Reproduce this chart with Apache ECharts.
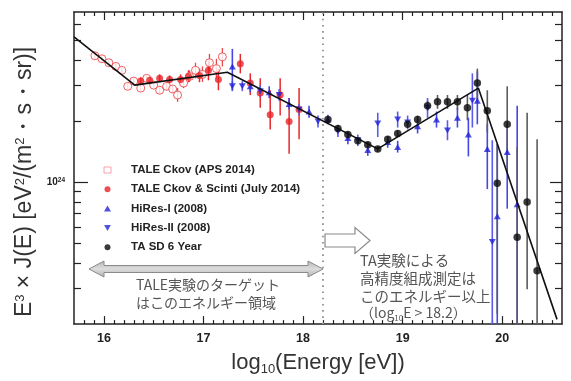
<!DOCTYPE html>
<html><head><meta charset="utf-8">
<script src="https://cdn.jsdelivr.net/npm/echarts@6/dist/echarts.min.js"></script>
<style>html,body{margin:0;padding:0;background:#fff}#c{width:571px;height:381px}</style>
</head><body><div id="c"></div>
<script>
// ---- data (E = log10 energy [eV], J = E^3 J(E) in units of 10^24) ----
const xTickLabels = [16, 17, 18, 19, 20];
const xMinorTicks = [15.8,15.9,16.1,16.2,16.3,16.4,16.5,16.6,16.7,16.8,16.9,17.1,17.2,17.3,17.4,17.5,17.6,17.7,17.8,17.9,18.1,18.2,18.3,18.4,18.5,18.6,18.7,18.8,18.9,19.1,19.2,19.3,19.4,19.5,19.6,19.7,19.8,19.9,20.1,20.2,20.3,20.4,20.5];
const yMajorTicks = [1];
const yMinorTicks = [0.3,0.4,0.5,0.6,0.7,0.8,0.9,2,3,4,5,6];

const taleCkovE  = [15.91,15.98,16.05,16.12,16.18,16.24,16.30,16.37,16.43,16.50,16.56,16.63,16.69,16.74,16.80,16.86,16.92,16.99,17.06,17.13,17.19];
const taleCkovJ  = [4.20,4.06,3.88,3.72,3.56,2.97,3.15,2.91,3.25,3.01,2.84,2.97,2.88,2.69,3.08,3.32,3.56,3.40,3.88,3.63,4.15];
const taleCkovLo = [4.06,3.93,3.76,3.60,3.44,2.88,3.04,2.81,3.15,2.91,2.72,2.84,2.75,2.49,2.91,3.12,3.25,3.12,3.52,3.25,3.72];
const taleCkovHi = [4.34,4.20,4.01,3.84,3.68,3.08,3.25,3.01,3.36,3.12,2.97,3.12,3.01,2.91,3.25,3.56,3.88,3.72,4.29,4.06,4.59];

const taleScE  = [16.37,16.46,16.56,16.66,16.77,16.85,16.96,17.05,17.15,17.37,17.47,17.57,17.67,17.77,17.86,17.96];
const taleScJ  = [3.15,3.18,3.25,3.21,3.21,3.32,3.36,3.56,3.21,3.84,3.08,2.75,2.15,2.69,1.99,2.28];
const taleScLo = [3.01,3.04,3.11,3.08,3.04,3.11,3.11,3.18,2.84,3.44,2.69,2.33,1.82,2.13,1.38,1.63];
const taleScHi = [3.29,3.32,3.40,3.36,3.40,3.56,3.63,3.97,3.63,4.29,3.44,3.25,2.84,3.25,2.60,2.91];

const hires1E  = [17.29,17.47,17.66,17.86,18.06,18.25,18.45,18.65,18.85,18.95,19.15,19.34,19.55,19.66,19.75,19.85,19.95,20.05,20.15];
const hires1J  = [3.72,2.97,2.78,2.43,2.23,2.04,1.65,1.44,1.58,1.49,1.89,2.04,2.08,1.72,2.52,1.46,0.68,1.41,0.78];
const hires1Lo = [2.84,2.78,2.60,2.28,2.08,1.93,1.54,1.35,1.48,1.40,1.74,1.86,1.86,1.34,1.93,0.925,0.19,0.741,0.19];
const hires1Hi = [4.54,3.18,2.97,2.60,2.38,2.15,1.76,1.54,1.69,1.60,2.04,2.23,2.33,2.08,3.52,1.93,1.54,1.93,2.38];

const hires2E  = [17.29,17.39,17.57,17.76,17.96,18.15,18.35,18.55,18.75,18.95,19.05,19.25,19.45,19.70,19.90];
const hires2J  = [2.97,2.97,2.81,2.69,2.28,1.99,1.78,1.61,1.95,2.04,1.97,2.33,1.80,2.52,0.507];
const hires2Lo = [2.81,2.81,2.63,2.52,2.13,1.86,1.67,1.51,1.67,1.86,1.82,2.08,1.61,1.86,0.19];
const hires2Hi = [3.15,3.15,3.01,2.88,2.43,2.13,1.91,1.72,2.20,2.23,2.13,2.60,2.02,3.44,1.61];

const taSdE  = [18.25,18.35,18.45,18.55,18.65,18.75,18.85,18.95,19.05,19.15,19.25,19.35,19.45,19.55,19.65,19.75,19.85,19.95,20.05,20.15,20.25,20.35];
const taSdJ  = [2.04,1.84,1.72,1.60,1.53,1.46,1.63,1.74,1.93,2.04,2.38,2.49,2.49,2.49,2.33,3.08,2.25,0.99,1.93,0.536,0.80,0.366];
const taSdLo = [1.97,1.78,1.67,1.54,1.48,1.41,1.58,1.69,1.86,1.95,2.25,2.30,2.30,2.28,2.02,2.52,1.76,0.225,1.19,0.19,0.297,0.19];
const taSdHi = [2.11,1.91,1.78,1.65,1.58,1.51,1.69,1.80,1.99,2.13,2.52,2.69,2.69,2.69,2.69,3.63,2.84,1.54,2.97,1.49,2.20,1.63];

const fitE = [15.70,16.31,17.24,18.75,19.76,20.55];
const fitJ = [5.21,3.01,3.48,1.46,2.91,0.211];

const cutE = [18.2, 18.2];
const cutJ = [0.2, 6.9];

const names = ['TALE Ckov (APS 2014)','TALE Ckov & Scinti (July 2014)','HiRes-I (2008)','HiRes-II (2008)','TA SD 6 Year'];

// ---- build ----
const X_MIN = 15.7, X_MAX = 20.6, Y_MIN = 0.2, Y_MAX = 6.9;
const LY_MIN = Math.log10(Y_MIN), LY_MAX = Math.log10(Y_MAX);
const pts = (E, J) => E.map((e, i) => [e, J[i]]);
const bars = (E, lo, hi) => E.map((e, i) => [e, lo[i], hi[i]]);
const DOWN = 'path://M0,0L10,0L5,9Z';
const SANS = 'Liberation Sans, Arial, Helvetica, sans-serif';
const JP = '"Noto Sans CJK JP", sans-serif';

function errSeries(data, color, width) {
  return {
    type: 'custom', data, clip: true, silent: true, z: 2,
    encode: { x: 0, y: [1, 2] },
    renderItem: (params, api) => {
      const x = api.value(0);
      const p1 = api.coord([x, api.value(1)]);
      const p2 = api.coord([x, api.value(2)]);
      return { type: 'line', shape: { x1: p1[0], y1: p1[1], x2: p2[0], y2: p2[1] },
               style: { stroke: color, lineWidth: width } };
    }
  };
}

const AX = '#222';
function xAx(pos, vals, len, opts) {
  return Object.assign({
    type: 'value', position: pos, min: X_MIN, max: X_MAX,
    axisLine: { show: false, onZero: false }, splitLine: { show: false },
    axisTick: { show: true, inside: true, length: len, customValues: vals, lineStyle: { color: AX, width: 1.2 } },
    axisLabel: { show: false }
  }, opts || {});
}
function yAx(pos, vals, len, opts) {
  return Object.assign({
    type: 'value', position: pos, min: LY_MIN, max: LY_MAX,
    axisLine: { show: false, onZero: false }, splitLine: { show: false },
    axisTick: { show: true, inside: true, length: len, customValues: vals.map(v => Math.log10(v)), lineStyle: { color: AX, width: 1.2 } },
    axisLabel: { show: false }
  }, opts || {});
}
const LINE = { show: true, onZero: false, lineStyle: { color: AX, width: 1.5 } };

const option = {
  animation: false,
  backgroundColor: '#fff',
  grid: { left: 74, right: 9, top: 12, bottom: 51 },
  xAxis: [
    xAx('bottom', xTickLabels, 8, {
      axisLine: LINE,
      axisLabel: { show: true, customValues: xTickLabels, margin: 8, color: '#222',
        fontFamily: SANS, fontWeight: 'bold', fontSize: 12.5 },
      name: 'log{s|10}(Energy [eV])', nameLocation: 'middle', nameGap: 23,
      nameTextStyle: { fontFamily: SANS, fontSize: 22, color: '#333', lineHeight: 26,
        rich: { s: { fontFamily: SANS, fontSize: 13, color: '#333', verticalAlign: 'bottom', lineHeight: 14 } } }
    }),
    xAx('bottom', xMinorTicks, 4),
    xAx('top', xTickLabels, 8, { axisLine: LINE }),
    xAx('top', xMinorTicks, 4)
  ],
  yAxis: [
    { type: 'log', position: 'left', min: Y_MIN, max: Y_MAX,
      axisLine: LINE, axisTick: { show: false }, axisLabel: { show: false }, splitLine: { show: false } },
    yAx('left', yMinorTicks, 7),
    yAx('left', yMajorTicks, 14, {
      axisLabel: { show: true, customValues: [0], margin: 9,
        formatter: () => '{b|10}{s|24}',
        rich: { b: { fontFamily: SANS, fontWeight: 'bold', fontSize: 10, color: '#222', lineHeight: 12 },
                s: { fontFamily: SANS, fontWeight: 'bold', fontSize: 6.5, color: '#222', verticalAlign: 'top', lineHeight: 7 } } }
    }),
    yAx('right', yMinorTicks, 7, { axisLine: LINE }),
    yAx('right', yMajorTicks, 12)
  ],
  legend: {
    orient: 'vertical', left: 103.5, top: 164, padding: 0, itemWidth: 7, itemHeight: 6, itemGap: 7.3,
    selectedMode: false,
    textStyle: { fontFamily: SANS, fontWeight: 'bold', fontSize: 11.5, color: '#222', lineHeight: 12, padding: [0, 0, 0, 15] },
    data: [
      { name: names[0], icon: 'rect', itemStyle: { color: '#fff', borderColor: '#f08c9c', borderWidth: 1 } },
      { name: names[1], icon: 'circle' },
      { name: names[2], icon: 'triangle' },
      { name: names[3], icon: DOWN },
      { name: names[4], icon: 'circle' }
    ]
  },
  series: [
    { type: 'line', data: pts(cutE, cutJ), symbol: 'none', silent: true, z: 1,
      lineStyle: { color: '#9a9a9a', width: 2, type: [1.6, 4.6] } },
    errSeries(bars(taleCkovE, taleCkovLo, taleCkovHi), '#e8484c', 1.3),
    errSeries(bars(taleScE, taleScLo, taleScHi), '#e8282c', 1.5),
    errSeries(bars(hires2E, hires2Lo, hires2Hi), '#5a5af0', 1.6),
    errSeries(bars(hires1E, hires1Lo, hires1Hi), '#4646e6', 1.6),
    errSeries(bars(taSdE, taSdLo, taSdHi), '#5c5c5c', 1.6),
    { name: names[0], type: 'scatter', data: pts(taleCkovE, taleCkovJ), symbol: 'circle', symbolSize: 8, z: 3,
      itemStyle: { color: '#fff', borderColor: '#e8393f', borderWidth: 1 } },
    { name: names[1], type: 'scatter', data: pts(taleScE, taleScJ), symbol: 'circle', symbolSize: 7, z: 3,
      itemStyle: { color: '#e82328' } },
    { name: names[3], type: 'scatter', data: pts(hires2E, hires2J), symbol: DOWN, symbolSize: [7, 6], z: 3,
      itemStyle: { color: '#2323d8' } },
    { name: names[2], type: 'scatter', data: pts(hires1E, hires1J), symbol: 'triangle', symbolSize: [7, 6], z: 3,
      itemStyle: { color: '#2323d8' } },
    { type: 'line', data: pts(fitE, fitJ), symbol: 'none', silent: true, z: 4,
      lineStyle: { color: '#111', width: 1.6 } },
    { name: names[4], type: 'scatter', data: pts(taSdE, taSdJ), symbol: 'circle', symbolSize: 7.5, z: 5,
      itemStyle: { color: '#0a0a0a' } }
  ],
  graphic: [
    { type: 'text', z: 10, x: 25, y: 182, rotation: Math.PI / 2,
      style: { text: 'E{s|3} × J(E) [eV{s|2}/(m{s|2}・s・sr)]', align: 'center', verticalAlign: 'middle',
        fontFamily: SANS, fontSize: 23, fill: '#333',
        rich: { s: { fontFamily: SANS, fontSize: 13, fill: '#333', verticalAlign: 'top', lineHeight: 12 } } } },
    { type: 'polygon', z: 10, shape: { points: [[89,269],[104,261],[104,265.5],[308,265.5],[308,261],[323,269],[308,277],[308,272.5],[104,272.5],[104,277]] },
      style: { fill: { type: 'linear', x: 0, y: 0, x2: 0, y2: 1, colorStops: [{ offset: 0, color: '#b5b5b5' }, { offset: 0.5, color: '#dcdcdc' }, { offset: 1, color: '#b0b0b0' }] },
               stroke: '#8a8a8a', lineWidth: 1 } },
    { type: 'polygon', z: 10, shape: { points: [[325,234],[355,234],[355,227.5],[370,240.5],[355,253.5],[355,247],[325,247]] },
      style: { fill: '#fff', stroke: '#8a8a8a', lineWidth: 1.2 } },
    { type: 'text', z: 10, style: { text: 'TALE実験のターゲット', x: 136, y: 285, font: '14px ' + JP, fill: '#555', verticalAlign: 'middle' } },
    { type: 'text', z: 10, style: { text: 'はこのエネルギー領域', x: 136, y: 303, font: '14px ' + JP, fill: '#555', verticalAlign: 'middle' } },
    { type: 'text', z: 10, style: { text: 'TA実験による', x: 360, y: 260, font: '14.5px ' + JP, fill: '#555', verticalAlign: 'middle' } },
    { type: 'text', z: 10, style: { text: '高精度組成測定は', x: 360, y: 278, font: '14.5px ' + JP, fill: '#555', verticalAlign: 'middle' } },
    { type: 'text', z: 10, style: { text: 'このエネルギー以上', x: 360, y: 296, font: '14.5px ' + JP, fill: '#555', verticalAlign: 'middle' } },
    { type: 'text', z: 10, style: { text: '{a|（log}{s|10}{a|E > 18.2）}', x: 360, y: 313, verticalAlign: 'middle',
      rich: { a: { fontFamily: JP, fontSize: 14, fill: '#555', lineHeight: 18 },
              s: { fontFamily: JP, fontSize: 8, fill: '#555', verticalAlign: 'bottom', lineHeight: 10 } } } }
  ]
};

const chart = echarts.init(document.getElementById('c'), null, { renderer: 'canvas' });
chart.setOption(option);
</script>
</body></html>
